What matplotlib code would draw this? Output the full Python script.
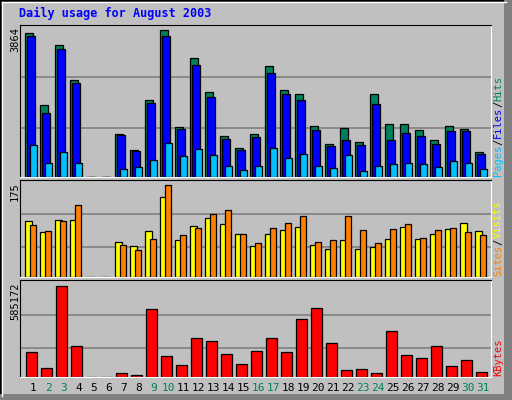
import matplotlib
matplotlib.use("Agg")
import matplotlib.pyplot as plt
from matplotlib.patches import Rectangle

days = list(range(1, 32))
hits = [3783,1897,3469,2552,0,0,1137,718,2028,3864,1320,3128,2237,1085,770,1137,
        2919,2290,2185,1347,875,1294,927,2185,1399,1399,1242,980,1347,1268,665]
files = [3686,1687,3346,2455,0,0,1092,682,1949,3686,1268,2945,2106,1006,718,1058,
         2735,2185,2028,1242,823,980,849,1923,980,1163,1085,875,1216,1216,613]
pages = [849,377,665,377,0,0,201,272,456,901,561,744,587,299,194,299,
         770,508,613,299,246,587,168,299,351,377,351,272,430,377,220]
sites = [106,85,108,108,0,0,66,60,87,152,70,97,112,102,83,59,
         83,89,95,62,53,70,53,57,72,95,72,83,91,104,87]
visits = [99,87,106,137,0,0,62,51,72,175,80,93,121,127,83,64,
          93,104,116,66,70,116,89,64,91,102,74,89,93,85,81]
kbytes = [162000,55500,585172,200800,0,0,27800,15000,437800,136700,79000,252000,232800,149500,85400,168700,
          252000,162000,373700,444200,220000,47000,53400,27800,296900,143000,123900,200800,72600,111000,34200]
weekend = [2,3,9,10,16,17,23,24,30,31]

W, H = 512, 400
BG = "#C0C0C0"
fig = plt.figure(figsize=(W/100, H/100), dpi=100, facecolor=BG)
mono = "DejaVu Sans Mono"

fig.add_artist(Rectangle((0, 0), 1, 1, transform=fig.transFigure, fill=False, ec="black", lw=2))
fig.add_artist(plt.Line2D([2/W, 2/W], [4/H, 1-2/H], transform=fig.transFigure, color="white", lw=1))
fig.add_artist(plt.Line2D([2/W, 1-6/W], [1-2/H, 1-2/H], transform=fig.transFigure, color="white", lw=1))
fig.add_artist(Rectangle((1-8/W, 0), 8/W, 1, transform=fig.transFigure, color="#808080", lw=0))
fig.add_artist(Rectangle((0, 0), 1, 6/H, transform=fig.transFigure, color="#808080", lw=0))

fig.text(19/W, 1-13/H, "Daily usage for August 2003", color="#0000FF", fontsize=8.5,
         fontweight="bold", family=mono, va="center", ha="left")

x0, x1 = 20, 491
xl = (0.11, 31.51)

def mkax(top, bottom):
    ax = fig.add_axes([x0/W, 1-bottom/H, (x1-x0)/W, (bottom-top)/H])
    ax.set_facecolor(BG)
    ax.set_xlim(*xl)
    ax.set_xticks([]); ax.set_yticks([])
    for s in ["left", "top"]:
        ax.spines[s].set_color("black")
    for s in ["right", "bottom"]:
        ax.spines[s].set_color("white")
    return ax

def bars(ax, vals, lo, hi, color, z):
    ax.bar([d + (lo+hi)/2 for d in days], vals, width=hi-lo, color=color,
           edgecolor="black", linewidth=0.9, zorder=z)

ax1 = mkax(25, 177)
ax1.set_ylim(0, 3864*152/147.4)
for yv in [(176.7-127.3)*26.2, (176.7-76.3)*26.2]:
    ax1.axhline(yv, color="#808080", lw=1.2, zorder=1)
bars(ax1, hits, -0.55, -0.05, "#00805C", 2)
bars(ax1, files, -0.42, 0.09, "#0000FF", 3)
bars(ax1, pages, -0.25, 0.25, "#00C0FF", 4)

ax2 = mkax(180, 277)
ax2.set_ylim(0, 175*97/91.7)
for yv in [(276-246.3)*1.908, (276-213.3)*1.908]:
    ax2.axhline(yv, color="#808080", lw=1.2, zorder=1)
bars(ax2, sites, -0.55, -0.12, "#FFFF00", 2)
bars(ax2, visits, -0.25, 0.2, "#FF8000", 3)

ax3 = mkax(280, 377)
ax3.set_ylim(0, 585172*97/91.3)
for yv in [88*2135.7, 187*2135.7]:
    ax3.axhline(yv, color="#808080", lw=1.2, zorder=1)
bars(ax3, kbytes, -0.49, 0.23, "#FF0000", 2)

for ytop, lab in [(27, "3864"), (182, "175"), (282, "585172")]:
    fig.text(15/W, 1-ytop/H, lab, rotation=90, fontsize=7.5, family=mono,
             ha="center", va="top", color="black")

for d in days:
    xp = x0 + (d - xl[0]) / (xl[1]-xl[0]) * (x1-x0)
    fig.text(xp/W, 1-388/H, str(d), fontsize=8, family=mono, ha="center", va="center",
             color="#00805C" if d in weekend else "black")

fig.canvas.draw()
renderer = fig.canvas.get_renderer()

def vlabel(parts, ybottom):
    y = ybottom
    for txt, col in parts:
        t = fig.text(498/W, 1-y/H, txt, rotation=90, fontsize=7.5, family=mono,
                     ha="center", va="bottom", color=col)
        bb = t.get_window_extent(renderer)
        y -= bb.height

vlabel([("Pages", "#00C0FF"), ("/", "black"), ("Files", "#0000FF"), ("/", "black"), ("Hits", "#00805C")], 176)
vlabel([("Sites", "#FF8000"), ("/", "black"), ("Visits", "#FFFF00")], 276)
vlabel([("KBytes", "#FF0000")], 376)

fig.savefig("out.png", dpi=100, facecolor=BG)
